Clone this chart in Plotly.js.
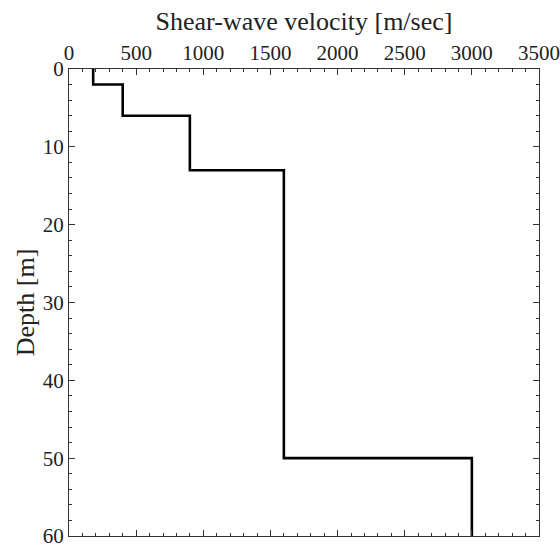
<!DOCTYPE html>
<html><head><meta charset="utf-8">
<script src="https://cdn.plot.ly/plotly-3.0.1.min.js"></script>
<style>html,body{margin:0;padding:0;background:#fff;}#chart{width:560px;height:548px;}</style>
</head><body><div id="chart"></div>
<script>
const velocities = [180, 400, 900, 1600, 3000];
const layerTops = [0, 2, 6, 13, 50];
const bottomDepth = 60;

const xs = velocities.concat([velocities[velocities.length - 1]]);
const ys = layerTops.concat([bottomDepth]);

const fontFam = 'Liberation Serif';
const axisCommon = {
  showgrid: false, zeroline: false, showline: true, linecolor: '#333', linewidth: 1,
  mirror: 'allticks', ticks: 'inside', ticklen: 6, tickcolor: '#333', tickwidth: 1,
  ticklabeloverflow: 'allow',
  tickfont: {family: fontFam, size: 21, color: '#222'}
};
Plotly.newPlot('chart', [{
  x: xs, y: ys, type: 'scatter', mode: 'lines',
  line: {shape: 'vh', color: '#000', width: 2.6}, hoverinfo: 'skip'
}], {
  width: 560, height: 548,
  margin: {l: 69, r: 21, t: 69, b: 12},
  paper_bgcolor: '#fff', plot_bgcolor: '#fff', showlegend: false,
  xaxis: Object.assign({}, axisCommon, {
    side: 'top', range: [0, 3500], dtick: 500, tick0: 0,
    minor: {dtick: 100, ticks: 'inside', ticklen: 3, tickcolor: '#333'},
    title: {text: 'Shear-wave velocity [m/sec]', font: {family: fontFam, size: 26, color: '#222'}, standoff: 2}
  }),
  yaxis: Object.assign({}, axisCommon, {
    range: [60, 0], dtick: 10, tick0: 0,
    minor: {dtick: 2, ticks: 'inside', ticklen: 3, tickcolor: '#333'},
    title: {text: 'Depth [m]', font: {family: fontFam, size: 26, color: '#222'}, standoff: 0}
  })
}, {staticPlot: true});
</script></body></html>
